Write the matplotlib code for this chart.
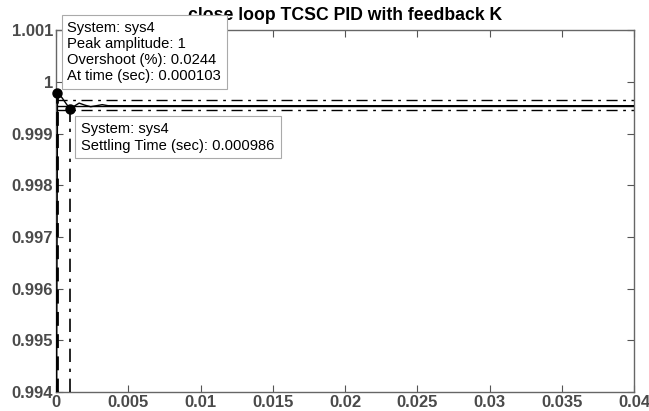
import numpy as np
import matplotlib.pyplot as plt

plt.rcParams['font.family'] = ['Liberation Sans', 'DejaVu Sans']

# step response
t = [0, 0.00002, 0.00005, 0.000103, 0.0004, 0.0007, 0.000986, 0.0012,
     0.0016, 0.0020, 0.0024, 0.0028, 0.0032, 0.0036, 0.04]
y = [0, 0.95, 0.995, 0.99978, 0.9997, 0.99958, 0.99947, 0.99952,
     0.99959, 0.99955, 0.99952, 0.99954, 0.99956, 0.99954, 0.99954]

final_value = 0.99954
band_upper = 0.99965
band_lower = 0.99946

t_peak, y_peak = 0.000103, 0.99978
t_settle, y_settle = 0.000986, 0.99947

xticks = [0, 0.005, 0.01, 0.015, 0.02, 0.025, 0.03, 0.035, 0.04]
xtick_labels = ['0', '0.005', '0.01', '0.015', '0.02', '0.025', '0.03', '0.035', '0.04']
yticks = [0.994, 0.995, 0.996, 0.997, 0.998, 0.999, 1.0, 1.001]
ytick_labels = ['0.994', '0.995', '0.996', '0.997', '0.998', '0.999', '1', '1.001']

fig = plt.figure(figsize=(6.49, 4.11), dpi=100)
ax = fig.add_axes([0.0863, 0.046, 0.8906, 0.8805])

ax.plot(t, y, color='black', linewidth=1.0, zorder=3)
ax.axhline(final_value, color='black', linewidth=1.0, zorder=2)
ax.axhline(band_upper, color='black', linewidth=1.0, dashes=(8, 4, 2, 4), zorder=2)
ax.axhline(band_lower, color='black', linewidth=1.0, dashes=(8, 4, 2, 4), zorder=2)

# peak / settling markers with their guide lines
ax.plot([t_peak, t_peak], [0.994, y_peak], color='black', linewidth=2.0,
        dashes=(5, 3), zorder=3)
ax.plot([0, t_peak], [y_peak, y_peak], color='black', linewidth=1.5,
        dashes=(5, 3), zorder=3)
ax.plot([t_settle, t_settle], [0.994, y_settle], color='black', linewidth=1.2,
        dashes=(8, 4, 2, 4), zorder=3)
ax.plot([t_peak], [y_peak], 'o', color='black', markersize=6.5, zorder=5, clip_on=False)
ax.plot([t_settle], [y_settle], 'o', color='black', markersize=6.5, zorder=5, clip_on=False)

ax.set_xlim(0, 0.04)
ax.set_ylim(0.994, 1.001)
ax.set_xticks(xticks)
ax.set_xticklabels(xtick_labels)
ax.set_yticks(yticks)
ax.set_yticklabels(ytick_labels)
ax.tick_params(direction='in', length=5, top=True, right=True, width=0.8,
               color='#555555', labelsize=12, labelcolor='#4a4a4a', pad=2)
for lab in ax.get_xticklabels() + ax.get_yticklabels():
    lab.set_fontweight('bold')
for sp in ax.spines.values():
    sp.set_color('#666666')
    sp.set_linewidth(1.0)

ax.set_title('close loop TCSC PID with feedback K', fontsize=12.7, fontweight='bold',
             pad=7, zorder=1)

box = dict(boxstyle='square,pad=0.4', facecolor='white', edgecolor='#aaaaaa', linewidth=0.8)
ax.annotate('System: sys4\nPeak amplitude: 1\nOvershoot (%): 0.0244\nAt time (sec): 0.000103',
            xy=(t_peak, y_peak), xytext=(10, 10), textcoords='offset pixels',
            ha='left', va='bottom', fontsize=10.6, linespacing=1.2, bbox=box,
            zorder=10, annotation_clip=False)
ax.annotate('System: sys4\nSettling Time (sec): 0.000986',
            xy=(t_settle, y_settle), xytext=(11, -13), textcoords='offset pixels',
            ha='left', va='top', fontsize=10.6, linespacing=1.2, bbox=box,
            zorder=10, annotation_clip=False)

fig.savefig('out.png', dpi=100)
